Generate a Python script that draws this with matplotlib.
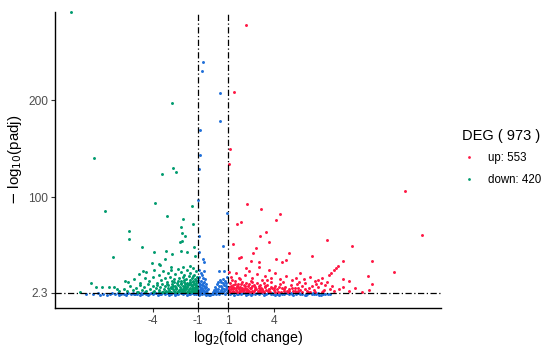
import matplotlib
matplotlib.use("Agg")
import matplotlib.pyplot as plt
from matplotlib.lines import Line2D

plt.rcParams['font.family'] = ['Liberation Sans', 'DejaVu Sans']

# thresholds
fc_cut = 1
padj_cut = 2.3

# up-regulated genes (log2FC, -log10 padj)
up_x = [2.19, 1.38, 1.10, 1.03, 2.25, 3.16, 1.59, 1.86, 1.33, 3.09, 3.47, 3.67, 4.41, 4.15,
        2.86, 2.64, 2.47, 3.06, 3.06, 2.17, 4.99, 4.83, 4.15, 4.52, 7.53, 6.56, 3.71, 5.75,
        8.55, 12.70, 13.80, 9.18, 10.5, 11.92, 10.2, 10.48, 8.26, 8.11, 7.96, 7.78, 7.67,
        1.73, 1.82, 1.05,
        1.2, 1.5, 1.8, 2.1, 2.4, 2.6, 2.9, 3.2, 3.4, 3.8, 4.1, 4.4, 4.8, 5.2, 5.5, 6.0, 6.4,
        6.9, 7.2, 8.6, 9.0,
        1.02, 1.08, 1.12, 1.18, 1.25, 1.3, 1.36, 1.42, 1.48, 1.55, 1.6, 1.66, 1.72, 1.78,
        1.85, 1.9, 1.96, 2.02, 2.08, 2.15, 2.2, 2.27, 2.33, 2.4, 2.47, 2.53, 2.6, 2.67, 2.74,
        2.8, 2.88, 2.95, 3.02, 3.1, 3.18, 3.25, 3.33, 3.4, 3.5, 3.58, 3.66, 3.75, 3.83, 3.92,
        4.0, 4.1, 4.2, 4.3, 4.42, 4.55, 4.65, 4.78, 4.9, 5.0, 5.12, 5.25, 5.38, 5.5, 5.62,
        5.75, 5.9, 6.05, 6.2, 6.35, 6.5, 6.65, 6.8, 6.95, 7.1, 7.25, 7.4, 7.55, 7.7, 7.85,
        8.0, 8.3, 8.6, 9.0, 9.4, 9.8, 10.3,
        1.05, 1.15, 1.22, 1.33, 1.45, 1.52, 1.63, 1.75, 1.82, 1.93, 2.05, 2.12, 2.25, 2.36,
        2.45, 2.57, 2.7, 2.85, 3.0, 3.15, 3.3, 3.45, 3.62, 3.8, 4.05, 4.35, 4.7, 5.2, 5.55,
        6.1, 1.28, 1.7, 2.55, 3.55, 4.6, 5.7, 6.7,
        1.1, 1.4, 1.7, 2.0, 2.3, 2.65, 3.0, 3.35, 3.7, 4.1, 4.5, 4.95, 5.4, 5.85, 6.3, 6.75,
        7.2, 1.3, 1.9, 2.5, 3.1, 3.7, 4.3, 5.0, 5.6, 6.4, 7.35]
up_y = [277.4, 208.9, 150.0, 134.9, 92.8, 88.0, 73.2, 74.9, 52.0, 60.6, 64.4, 54.7, 82.9, 76.7,
        47.9, 43.4, 35.2, 34.2, 28.4, 27.4, 43.4, 36.2, 36.9, 34.2, 56.2, 39.7, 25.6, 22.2,
        35.2, 107.1, 61.6, 50.3, 34.9, 23.6, 19.8, 11.2, 29.7, 27.4, 25.3, 22.9, 20.8,
        37.7, 39.3, 23.9,
        18, 22, 16, 20, 24, 17, 21, 15, 19, 17, 22, 16, 19, 15, 17, 16, 18,
        15, 17, 16, 14,
        4, 8, 12, 5.5, 3, 10, 6.5, 14, 4.5, 9, 3.2, 11, 6, 8,
        3.8, 13, 5, 10, 7, 3.3, 12, 6, 9, 4, 14, 7.5, 3.5, 10.5, 5.5,
        8.5, 12.5, 4, 7, 10, 3, 5.5, 12, 8, 4.5, 10, 6, 3.2, 13, 7.5,
        4.5, 9.5, 5.5, 3, 11, 6.5, 4, 8, 3.5, 5.5, 10, 4, 6.5, 3.2, 7.5,
        5, 9, 6, 3.5, 7.5, 9.5, 5, 11, 8, 12.5, 4, 10, 13.5, 6, 9,
        3.5, 5.5, 8, 4, 6.5, 3, 5,
        6, 9.5, 7, 4, 11.5, 6.5, 8.5, 4, 11, 7.5, 4.5, 9, 5, 11,
        6.5, 9.5, 3.8, 6, 9.5, 6.5, 3.8, 9.5, 4, 8, 7, 8.5, 6, 7.5, 11.5,
        12, 15.5, 17.5, 13.5, 15, 13, 13.5, 14,
        2.9, 3.1, 2.8, 3.4, 2.9, 3.2, 2.7, 3.0, 3.3, 2.8, 3.1, 2.9, 3.4, 2.8, 3.0, 3.2,
        2.9, 7.5, 5.8, 2.6, 4.8, 6.2, 2.7, 4.2, 3.6, 2.6, 5.2]

# down-regulated genes
down_x = [-9.40, -2.70, -7.84, -2.63, -2.47, -3.40, -7.14, -3.84, -1.40, -3.03, -2.01, -5.53,
          -5.57, -4.70, -6.63, -1.31, -2.12, -2.04, -2.06, -8.06, -8.79, -7.71, -7.32, -6.87,
          -6.56, -6.35, -5.84, -4.61, -3.88, -3.55,
          -1.86, -2.17, -3.13, -2.74, -3.18, -2.14, -1.75, -1.26, -1.20, -4.06, -3.51, -2.80,
          -1.97, -1.53, -1.31,
          -4.9, -4.4, -3.9, -3.6, -3.3, -3.0, -2.8, -2.5, -2.3, -2.1, -1.9, -1.7, -1.5, -1.3,
          -1.15,
          -5.6, -5.2, -4.8, -4.5, -4.2, -3.95, -3.7, -3.45, -3.2, -3.05, -2.85, -2.7, -2.55,
          -2.4, -2.25, -2.15, -2.0, -1.9, -1.8, -1.7, -1.6, -1.5, -1.4, -1.3, -1.2, -1.1, -1.05,
          -6.2, -5.9, -5.7, -5.5, -5.3, -5.1, -4.95, -4.8, -4.7, -4.55, -4.4, -4.3, -4.15, -4.0,
          -3.9, -3.8, -3.7, -3.6, -3.5, -3.4, -3.35, -3.25, -3.15, -3.1, -3.0, -2.95, -2.9,
          -2.82, -2.75, -2.7, -2.62, -2.55, -2.5, -2.45, -2.38, -2.32, -2.28, -2.2, -2.15,
          -2.1, -2.05, -2.0, -1.95, -1.9, -1.85, -1.8, -1.75, -1.7, -1.65, -1.6, -1.55, -1.5,
          -1.45, -1.4, -1.35, -1.3, -1.25, -1.2, -1.15, -1.1, -1.06, -1.03,
          -2.6, -2.35, -1.95, -1.55, -1.25, -1.45, -1.75, -2.25, -2.65, -3.05, -1.35, -1.15,
          -1.05, -1.22, -1.62, -1.88, -2.12, -2.42, -2.78, -3.2,
          -1.08, -1.28, -1.48, -1.68, -1.88, -2.08, -2.3, -2.52, -2.76, -3.0, -3.3, -3.6, -4.0,
          -4.5, -5.0, -1.18, -1.42, -1.63, -1.84, -2.02, -2.24, -2.48, -1.12, -1.38, -1.58]
down_y = [290.5, 196.9, 140.7, 130.5, 126.7, 124.0, 86.3, 94.8, 91.7, 81.4, 78.4, 66.0,
          57.8, 49.3, 39.3, 72.6, 69.8, 63.3, 55.4, 12.6, 3.3, 8, 8, 8.5,
          8, 6, 14.3, 24.9, 43.8, 31.5,
          60.9, 54.1, 45.2, 42.4, 36.9, 44.8, 43.8, 49.6, 40.3, 32.5, 30.8, 29.0,
          28.4, 29.7, 27.4,
          21, 23, 26, 20, 24, 22, 25, 21, 27, 23, 20, 25, 22, 19,
          24,
          13, 16, 12, 17, 14, 18, 12, 15, 17, 13, 18, 14, 16,
          12, 17, 14, 18, 13, 16, 12, 19, 15, 17, 13, 16, 14, 18,
          4, 6, 3.5, 9, 5, 7, 3, 10, 5, 8, 4, 11, 6, 9,
          3.5, 7, 10, 5, 8, 3, 11, 6, 9, 4, 7, 10, 5,
          3, 8, 11, 6, 4, 9, 7, 3.2, 10, 5, 8, 11,
          6, 3.5, 9, 7, 4.5, 11, 6, 8.5, 3, 10, 5.5, 7.5, 12,
          4, 9, 6.5, 3.5, 11, 8, 5, 10, 3, 7,
          13.5, 14.5, 15, 13.5, 20, 10.5, 11.5, 3.8, 9.5, 11.5, 14.5, 12,
          9.5, 6, 3.8, 9, 12.5, 5.5, 6.5, 3.2,
          2.8, 3.0, 2.7, 3.2, 2.9, 2.8, 3.1, 2.7, 3.0, 2.8, 3.2, 2.9, 3.0,
          2.8, 3.1, 5.0, 6.0, 4.2, 7.0, 5.5, 4.4, 6.8, 8.8, 9.8, 11.0]

# not significant genes
ns_x = [-0.69, -0.76, 0.47, 0.47, -0.87, -0.85, -0.95, -0.98, 0.89, -0.91, 0.63, -0.91,
        -0.65, -0.58, 0.41, 0.72,
        -8.4, -7.9, -7.6, -7.3, -7.0, -6.8, -6.5, -6.3, -6.1, -5.9, -5.75, -5.6, -5.45, -5.3,
        -5.15, -5.0, -4.85, -4.7, -4.55, -4.4, -4.25, -4.1, -3.95, -3.8, -3.65, -3.5, -3.35,
        -3.2, -3.05, -2.9, -2.75, -2.6, -2.45, -2.3, -2.15, -2.0, -1.85, -1.7, -1.55, -1.4,
        -1.25, -1.1, -0.95,
        1.1, 1.25, 1.4, 1.55, 1.7, 1.85, 2.0, 2.15, 2.3, 2.45, 2.6, 2.75, 2.9, 3.05, 3.2,
        3.35, 3.5, 3.65, 3.8, 3.95, 4.1, 4.25, 4.4, 4.55, 4.7, 4.85, 5.0, 5.15, 5.3, 5.45,
        5.6, 5.75, 5.9, 6.05, 6.2, 6.35, 6.5, 6.65, 6.8, 6.95, 7.1, 7.25, 7.4, 7.6, 7.75,
        -7.45, -6.65, -6.2, -5.68, -5.22, -4.78, -4.33, -3.88, -3.42, -2.97, -2.52, -2.08,
        -1.62, -1.18, 1.18, 1.63, 2.08, 2.52, 2.97, 3.42, 3.88, 4.33, 4.78, 5.22, 5.68, 6.12,
        6.58, 7.02,
        -0.98, -0.95, -0.92, -0.9, -0.88, -0.85, -0.82, -0.8, -0.78, -0.75, -0.72, -0.7,
        -0.68, -0.65, -0.62, -0.6, -0.57, -0.55, -0.52, -0.5, -0.47, -0.44, -0.42, -0.39,
        -0.36, -0.34, -0.9, -0.7, -0.6, -0.95, -0.85, -0.75, -0.66, -0.55, -0.45, -0.98,
        -0.88, -0.8, -0.58, -0.48, -0.3, -0.2, -0.12,
        -0.08, -0.03, 0.02, 0.06, 0.1, 0.14, 0.18, 0.22, 0.26, 0.3, 0.34, 0.38, 0.42, 0.46,
        0.5, 0.54, 0.58, 0.62, 0.66, 0.7, 0.74, 0.78, 0.82, 0.86, 0.9, 0.94, 0.97, 0.55,
        0.68, 0.8, 0.35, 0.2, 0.45, 0.9, 0.12, 0.6, 0.72, 0.85]
ns_y = [239.1, 229.9, 207.5, 178.1, 169.2, 144.1, 129.4, 97.6, 83.9, 60.6, 50.3, 44.4,
        36.9, 34.2, 24.3, 24.9,
        1.0, 0.6, 1.6, 0.9, 0.3, 1.3, 0.7, 1.9, 0.4, 1.1, 0.2, 1.6, 0.8, 2.0,
        0.5, 1.3, 0.1, 0.9, 1.8, 0.4, 1.2, 2.1, 0.7, 1.5, 0.2, 1.0, 1.9,
        0.5, 1.4, 0.1, 0.9, 1.7, 0.4, 1.2, 2.0, 0.6, 1.5, 0.2, 1.0, 1.9,
        0.5, 1.3, 0.1,
        0.8, 1.7, 0.3, 1.2, 2.0, 0.6, 1.4, 0.1, 0.9, 1.8, 0.4, 1.2, 2.1, 0.7, 1.5,
        0.2, 1.0, 1.9, 0.5, 1.3, 0.1, 0.9, 1.7, 0.4, 1.2, 2.0, 0.6, 1.4, 0.2, 1.0,
        1.8, 0.5, 1.3, 0.1, 0.9, 1.6, 0.4, 1.1, 0.7, 1.5, 0.3, 1.0, 0.6, 1.2, 0.4,
        0.2, 1.8, 0.3, 1.5, 0.6, 2.2, 0.3, 1.7, 0.8, 2.2, 0.2, 1.6,
        0.7, 2.2, 2.2, 0.4, 1.7, 0.2, 2.2, 0.6, 1.6, 0.1, 2.1, 0.8, 1.6, 0.3,
        1.9, 0.2,
        5, 12, 3, 18, 8, 1, 22, 6, 14, 3.5, 10, 0.5,
        17, 5, 9, 2, 13, 6.5, 1, 8, 3.5, 11, 5, 2,
        6, 1, 25, 20, 24, 9, 4.5, 7.5, 12, 16, 3, 15,
        11, 2.5, 4, 0.3, 0.3, 0.1, 0.4,
        1, 3, 0.5, 5, 2, 8, 1, 4, 11, 2.5, 6, 0.5, 9, 3,
        13, 5, 1.5, 7, 16, 3.5, 10, 0.8, 6, 12, 2.5, 8, 4, 9,
        12, 14, 13, 6, 15, 18, 3.5, 3, 5.5, 9.5]

# legend text
legend_title = "DEG ( 973 )"
up_label = "up: 553"
down_label = "down: 420"

# tick labels
x_ticks = [-4, -1, 1, 4]
y_ticks = [2.3, 100, 200]
y_tick_labels = ["2.3", "100", "200"]

col_up = "#FF1744"
col_down = "#009B6E"
col_ns = "#1F6FD9"

fig = plt.figure(figsize=(5.5, 3.52), dpi=100)
ax = fig.add_axes([0.1, 0.126, 0.701, 0.841])

ms = 4.5
ax.scatter(ns_x, ns_y, s=ms, color=col_ns, linewidths=0, zorder=2)
ax.scatter(down_x, down_y, s=ms, color=col_down, linewidths=0, zorder=3, clip_on=False)
ax.scatter(up_x, up_y, s=ms, color=col_up, linewidths=0, zorder=3)

dash = (0, (5, 2, 1, 2))
ax.axvline(-fc_cut, color="black", lw=0.9, linestyle=dash, zorder=4)
ax.axvline(fc_cut, color="black", lw=0.9, linestyle=dash, zorder=4)
ax.axhline(padj_cut, color="black", lw=0.9, linestyle=dash, zorder=4)

ax.set_xlim(-10.44, 15.02)
ax.set_ylim(-13.2, 291)

ax.set_xticks(x_ticks)
ax.set_xticklabels([str(t) for t in x_ticks])
ax.set_yticks(y_ticks)
ax.set_yticklabels(y_tick_labels)
ax.tick_params(axis="both", labelsize=8.6, labelcolor="#4D4D4D", color="#333333",
               length=3, width=0.8, pad=2)

for side in ["top", "right"]:
    ax.spines[side].set_visible(False)
for side in ["left", "bottom"]:
    ax.spines[side].set_linewidth(1.0)

ax.set_xlabel("log$_2$(fold change)", fontsize=10.3, labelpad=2)
ax.set_ylabel("$-$ log$_{10}$(padj)", fontsize=10.8, labelpad=3)

handles = [
    Line2D([], [], marker="o", linestyle="none", markersize=2.0, color=col_up, markeredgewidth=0),
    Line2D([], [], marker="o", linestyle="none", markersize=2.0, color=col_down, markeredgewidth=0),
]
leg = fig.legend(handles, [up_label, down_label], title=legend_title,
                 loc="center left", bbox_to_anchor=(0.822, 0.553), frameon=False,
                 fontsize=8.3, title_fontsize=10.5, handlelength=1.2,
                 handletextpad=1.0, labelspacing=0.85)
leg._legend_box.align = "left"

fig.savefig("out.png", dpi=100)
